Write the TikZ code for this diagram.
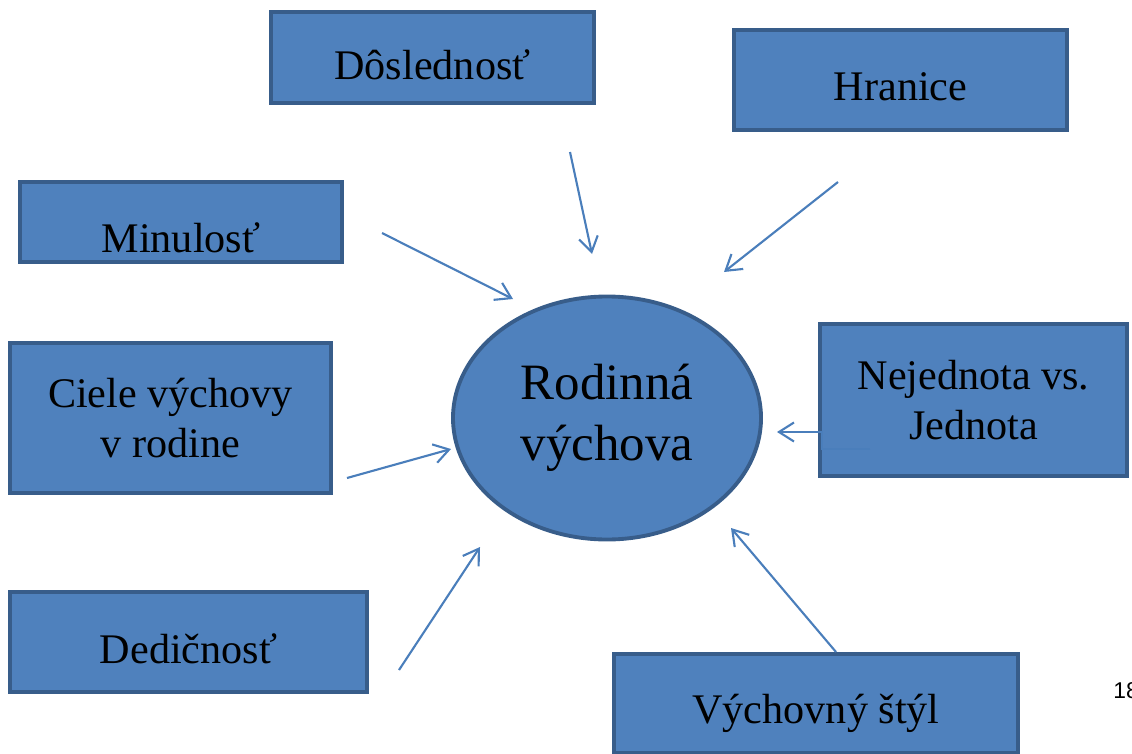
\documentclass[tikz,border=0pt]{standalone}
\usepackage{fontspec}
\setmainfont{Liberation Serif}
\newfontfamily\pagenumfont{Liberation Sans}
\usetikzlibrary{arrows.meta, shapes.geometric}
\definecolor{boxfill}{HTML}{4F81BD}
\definecolor{boxline}{HTML}{385D8A}
\definecolor{arrowblue}{HTML}{4A7EBB}

\begin{document}
\begin{tikzpicture}[x=0.2mm, y=-0.2mm, >={Straight Barb[length=3mm,width=3.8mm]}]
  \tikzset{topic/.style={draw=boxline, fill=boxfill, line width=2.2pt, inner sep=0pt,
      align=center, font=\fontsize{24}{28}\selectfont},
    link/.style={arrowblue, line width=1.2pt, ->}}
  \useasboundingbox (0,0) rectangle (1132,753);
  % central ellipse
  \node[topic, ellipse, minimum width=61.6mm, minimum height=48.6mm,
    font=\fontsize{29}{34.5}\selectfont] (family) at (607,418) {Rodinná\\výchova};
  % surrounding boxes
  \node[topic, minimum width=64.6mm, minimum height=18.2mm, text height=9mm, text depth=0pt]
    (consist) at (432.5,57.5) {Dôslednosť};
  \node[topic, minimum width=66.6mm, minimum height=20mm, text height=8mm, text depth=0pt]
    (limits) at (900.5,80) {Hranice};
  \node[topic, minimum width=64.4mm, minimum height=16mm, text height=12mm, text depth=0pt]
    (past) at (181,222) {Minulosť};
  \node[topic, minimum width=64.2mm, minimum height=30mm]
    (goals) at (170.5,418) {Ciele výchovy\\v rodine};
  \node[topic, minimum width=71.4mm, minimum height=20mm, text height=8.4mm, text depth=0pt]
    (heredity) at (188.5,642) {Dedičnosť};
  \node[topic, minimum width=61.4mm, minimum height=30.4mm]
    (unity) at (973.5,400) {Nejednota vs.\\Jednota};
  \node[topic, minimum width=80.8mm, minimum height=19.8mm, text height=7.8mm, text depth=0pt]
    (style) at (816,703.5) {Výchovný štýl};
  % arrow ends
  \coordinate (consist-t) at (570,152);  \coordinate (consist-h) at (592,254);
  \coordinate (limits-t) at (838,182);   \coordinate (limits-h) at (724,272);
  \coordinate (past-t) at (382,233);     \coordinate (past-h) at (513,299);
  \coordinate (goals-t) at (347,478);    \coordinate (goals-h) at (451,449);
  \coordinate (heredity-t) at (399,670); \coordinate (heredity-h) at (480,547);
  \coordinate (style-t) at (836,652);    \coordinate (style-h) at (731,528);
  \coordinate (unity-t) at (870,449);    \coordinate (unity-h) at (777,432);
  \draw[link] (consist-t) -- (consist-h);
  \draw[link] (limits-t) -- (limits-h);
  \draw[link] (past-t) -- (past-h);
  \draw[link] (goals-t) -- (goals-h);
  \draw[link] (heredity-t) -- (heredity-h);
  \draw[link] (style-t) -- (style-h);
  \draw[link] (unity-t) -- (822,449) -- (822,432) -- (unity-h);
  % page number
  \node[font=\pagenumfont\fontsize{13}{13}\selectfont, anchor=base west, inner sep=0pt]
    (pagenum) at (1113,698) {18};
\end{tikzpicture}
\end{document}
